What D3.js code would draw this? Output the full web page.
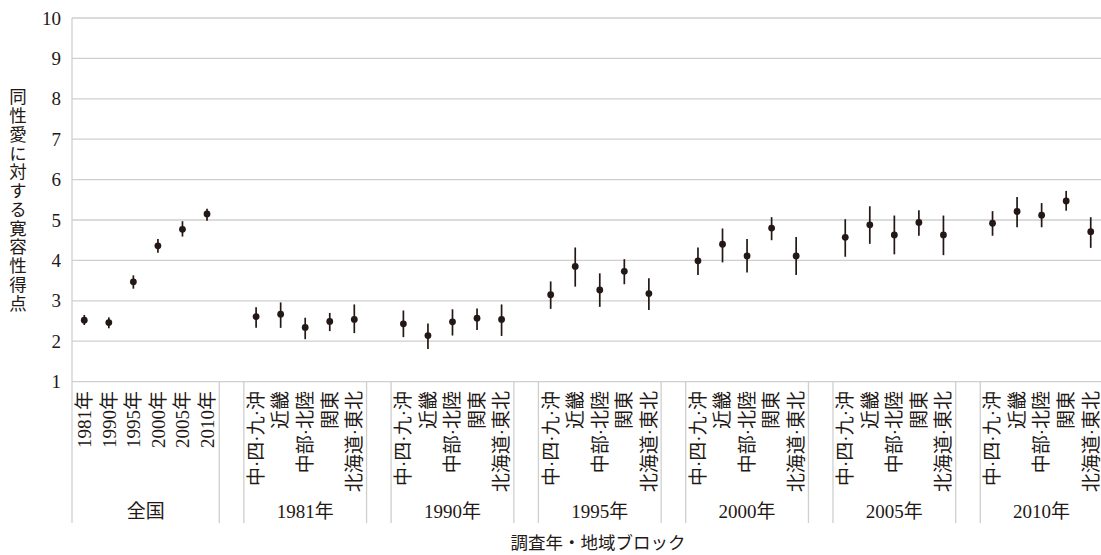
<!DOCTYPE html>
<html><head><meta charset="utf-8">
<script src="https://cdn.jsdelivr.net/npm/d3@7"></script>
<style>
html,body{margin:0;padding:0;background:#fff;}
svg{display:block;}
text{fill:#231815;}
</style></head>
<body>
<svg id="c" width="1101" height="555"></svg>
<script>
const groups = ["全国","1981年","1990年","1995年","2000年","2005年","2010年"];
const nationalLabels = ["1981年","1990年","1995年","2000年","2005年","2010年"];
const regionLabels = ["中·四·九·沖","近畿","中部·北陸","関東","北海道·東北"];
const yTicks = [1,2,3,4,5,6,7,8,9,10];

const nationalMean = [2.52,2.46,3.47,4.36,4.77,5.15];
const nationalLow  = [2.40,2.32,3.30,4.19,4.59,4.98];
const nationalHigh = [2.65,2.59,3.63,4.53,4.97,5.28];

const mean1981 = [2.61,2.67,2.34,2.49,2.54];
const low1981  = [2.33,2.33,2.05,2.25,2.20];
const high1981 = [2.84,2.96,2.58,2.70,2.91];

const mean1990 = [2.43,2.14,2.48,2.57,2.54];
const low1990  = [2.10,1.81,2.14,2.28,2.13];
const high1990 = [2.76,2.44,2.79,2.81,2.91];

const mean1995 = [3.15,3.85,3.27,3.73,3.18];
const low1995  = [2.80,3.35,2.85,3.41,2.77];
const high1995 = [3.48,4.32,3.68,4.03,3.56];

const mean2000 = [3.99,4.40,4.11,4.80,4.11];
const low2000  = [3.64,3.95,3.70,4.50,3.64];
const high2000 = [4.32,4.79,4.53,5.07,4.58];

const mean2005 = [4.57,4.88,4.63,4.94,4.63];
const low2005  = [4.09,4.41,4.15,4.61,4.13];
const high2005 = [5.02,5.34,5.11,5.24,5.11];

const mean2010 = [4.92,5.21,5.12,5.47,4.71];
const low2010  = [4.61,4.82,4.82,5.23,4.31];
const high2010 = [5.22,5.57,5.42,5.72,5.07];

const regionMeans = [mean1981,mean1990,mean1995,mean2000,mean2005,mean2010];
const regionLows  = [low1981,low1990,low1995,low2000,low2005,low2010];
const regionHighs = [high1981,high1990,high1995,high2000,high2005,high2010];

(function(){
const cats = [];
const points = [];
const groupSpans = [];
nationalLabels.forEach((l,i)=>{
  const key="g0-"+i; cats.push({key,label:l});
  points.push({key,m:nationalMean[i],lo:nationalLow[i],hi:nationalHigh[i]});
});
groupSpans.push({label:groups[0],first:"g0-0",last:"g0-"+(nationalLabels.length-1)});
regionMeans.forEach((arr,g)=>{
  cats.push({key:"blank"+g,label:""});
  regionLabels.forEach((l,i)=>{
    const key="g"+(g+1)+"-"+i; cats.push({key,label:l});
    points.push({key,m:arr[i],lo:regionLows[g][i],hi:regionHighs[g][i]});
  });
  groupSpans.push({label:groups[g+1],first:"g"+(g+1)+"-0",last:"g"+(g+1)+"-"+(regionLabels.length-1)});
});

const svg = d3.select("#c");
const pLeft=72, pRight=1103, pTop=18, pBottom=381.6;
const x = d3.scaleBand().domain(cats.map(c=>c.key)).range([pLeft,pRight]).padding(0);
const y = d3.scaleLinear().domain([1,10]).range([pBottom,pTop]);
const serif = "'Times New Roman','Liberation Serif','DejaVu Serif','Noto Sans CJK JP',serif";
const gridColor = "#cfcfcf";

svg.append("g").selectAll("line").data(yTicks).join("line")
  .attr("x1",pLeft).attr("x2",1101)
  .attr("y1",d=>y(d)).attr("y2",d=>y(d))
  .attr("stroke",gridColor).attr("stroke-width",1.3);

svg.append("line").attr("x1",pLeft).attr("x2",pLeft).attr("y1",pTop).attr("y2",523)
  .attr("stroke",gridColor).attr("stroke-width",1.3);

svg.append("g").selectAll("text").data(yTicks).join("text")
  .attr("x",61).attr("y",d=>y(d)).attr("dy","0.35em")
  .attr("text-anchor","end").style("font-family",serif).style("font-size","19px")
  .text(d=>d);

const sepX = [];
cats.forEach(c=>{ if(c.key.startsWith("blank")){ sepX.push(x(c.key)); sepX.push(x(c.key)+x.bandwidth()); }});
svg.append("g").selectAll("line").data(sepX).join("line")
  .attr("x1",d=>d).attr("x2",d=>d).attr("y1",pBottom).attr("y2",523)
  .attr("stroke",gridColor).attr("stroke-width",1.3);

svg.append("g").selectAll("text").data(cats.filter(c=>c.label)).join("text")
  .attr("transform",d=>`translate(${x(d.key)+x.bandwidth()/2},391) rotate(-90)`)
  .attr("text-anchor","end").attr("dy","0.36em")
  .style("font-family",serif).style("font-size","19px")
  .text(d=>d.label);

svg.append("g").selectAll("text").data(groupSpans).join("text")
  .attr("x",d=>(x(d.first)+x(d.last)+x.bandwidth())/2).attr("y",518)
  .attr("text-anchor","middle").style("font-family",serif).style("font-size","19px")
  .text(d=>d.label);

svg.append("g").selectAll("line").data(points).join("line")
  .attr("x1",d=>x(d.key)+x.bandwidth()/2).attr("x2",d=>x(d.key)+x.bandwidth()/2)
  .attr("y1",d=>y(d.hi)).attr("y2",d=>y(d.lo))
  .attr("stroke","#231815").attr("stroke-width",1.7);
svg.append("g").selectAll("circle").data(points).join("circle")
  .attr("cx",d=>x(d.key)+x.bandwidth()/2).attr("cy",d=>y(d.m)).attr("r",3.4)
  .attr("fill","#231815");

svg.append("text").attr("x",18).attr("y",88)
  .style("writing-mode","vertical-rl")
  .style("font-family","'Noto Sans CJK JP',sans-serif").style("font-size","17.5px")
  .style("letter-spacing","1.25px")
  .text("同性愛に対する寛容性得点");

svg.append("text").attr("x",598).attr("y",549).attr("text-anchor","middle")
  .style("font-family","'Noto Sans CJK JP',sans-serif").style("font-size","17.5px")
  .text("調査年・地域ブロック");
})();
</script>
</body></html>
